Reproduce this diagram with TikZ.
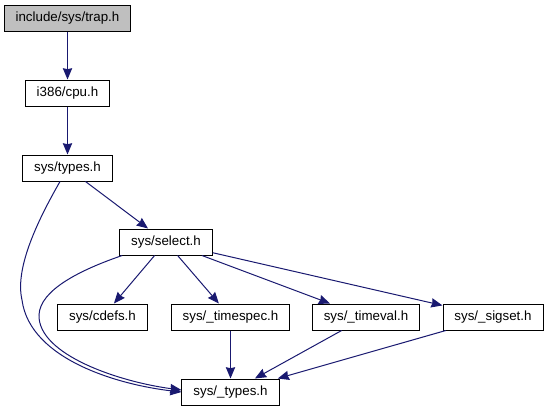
\documentclass[tikz,border=0pt]{standalone}
\usepackage{fontspec}
\setmainfont{Liberation Sans}
\usepackage{tikz}
\usetikzlibrary{
    arrows.meta
}

\tikzset{
    file/.style={draw=black, line width=0.75pt, rectangle, inner xsep=8.6pt,
        inner ysep=0pt, minimum height=19.5pt, font=\fontsize{10}{12}\selectfont},
    dep/.style={draw={rgb,255:red,25;green,25;blue,112}, line width=0.75pt,
        -{Stealth[length=8.5pt,width=7pt,inset=0.8pt]}}
}

\begin{document}
\begin{tikzpicture}[x=0.75pt,y=-0.75pt]
\useasboundingbox (0,0) rectangle (549,411);

% Root file
\node[file, fill=black!25] (trap) at (67.5,18.5) {include/sys/trap.h};

% Chain down the left
\node[file] (cpu) at (67.5,93) {i386/cpu.h};
\node[file] (types) at (67.5,168) {sys/types.h};
\node[file] (select) at (166,242) {sys/select.h};

% Headers pulled in by select.h
\node[file] (cdefs) at (102.5,317) {sys/cdefs.h};
\node[file] (timespec) at (230.5,317) {sys/\_timespec.h};
\node[file] (timeval) at (366,317) {sys/\_timeval.h};
\node[file] (sigset) at (493,317) {sys/\_sigset.h};

% Bottom
\node[file] (ctypes) at (230.5,392) {sys/\_types.h};

% Edges
\draw[dep] (trap) -- (cpu);
\draw[dep] (cpu) -- (types);
\draw[dep] (types) -- (select);
\draw[dep] (select) -- (cdefs);
\draw[dep] (select) -- (timespec);
\draw[dep] (select) -- (timeval);
\draw[dep] (select) -- (sigset);
\draw[dep] (timespec) -- (ctypes);
\draw[dep] (timeval) -- (ctypes);
\draw[dep] (sigset) -- (ctypes);

% Curved edges to _types.h
\draw[dep] ([xshift=-5.6pt]types.south) .. controls (35,225) and (15,270) .. (22,300)
    .. controls (30,360) and (120,385) .. (ctypes.west);
\draw[dep] ([xshift=2.25pt]select.south west) .. controls (80,270) and (40,290) .. (39,315)
    .. controls (38,355) and (120,382) .. ([yshift=1.5pt]ctypes.west);

\end{tikzpicture}
\end{document}
